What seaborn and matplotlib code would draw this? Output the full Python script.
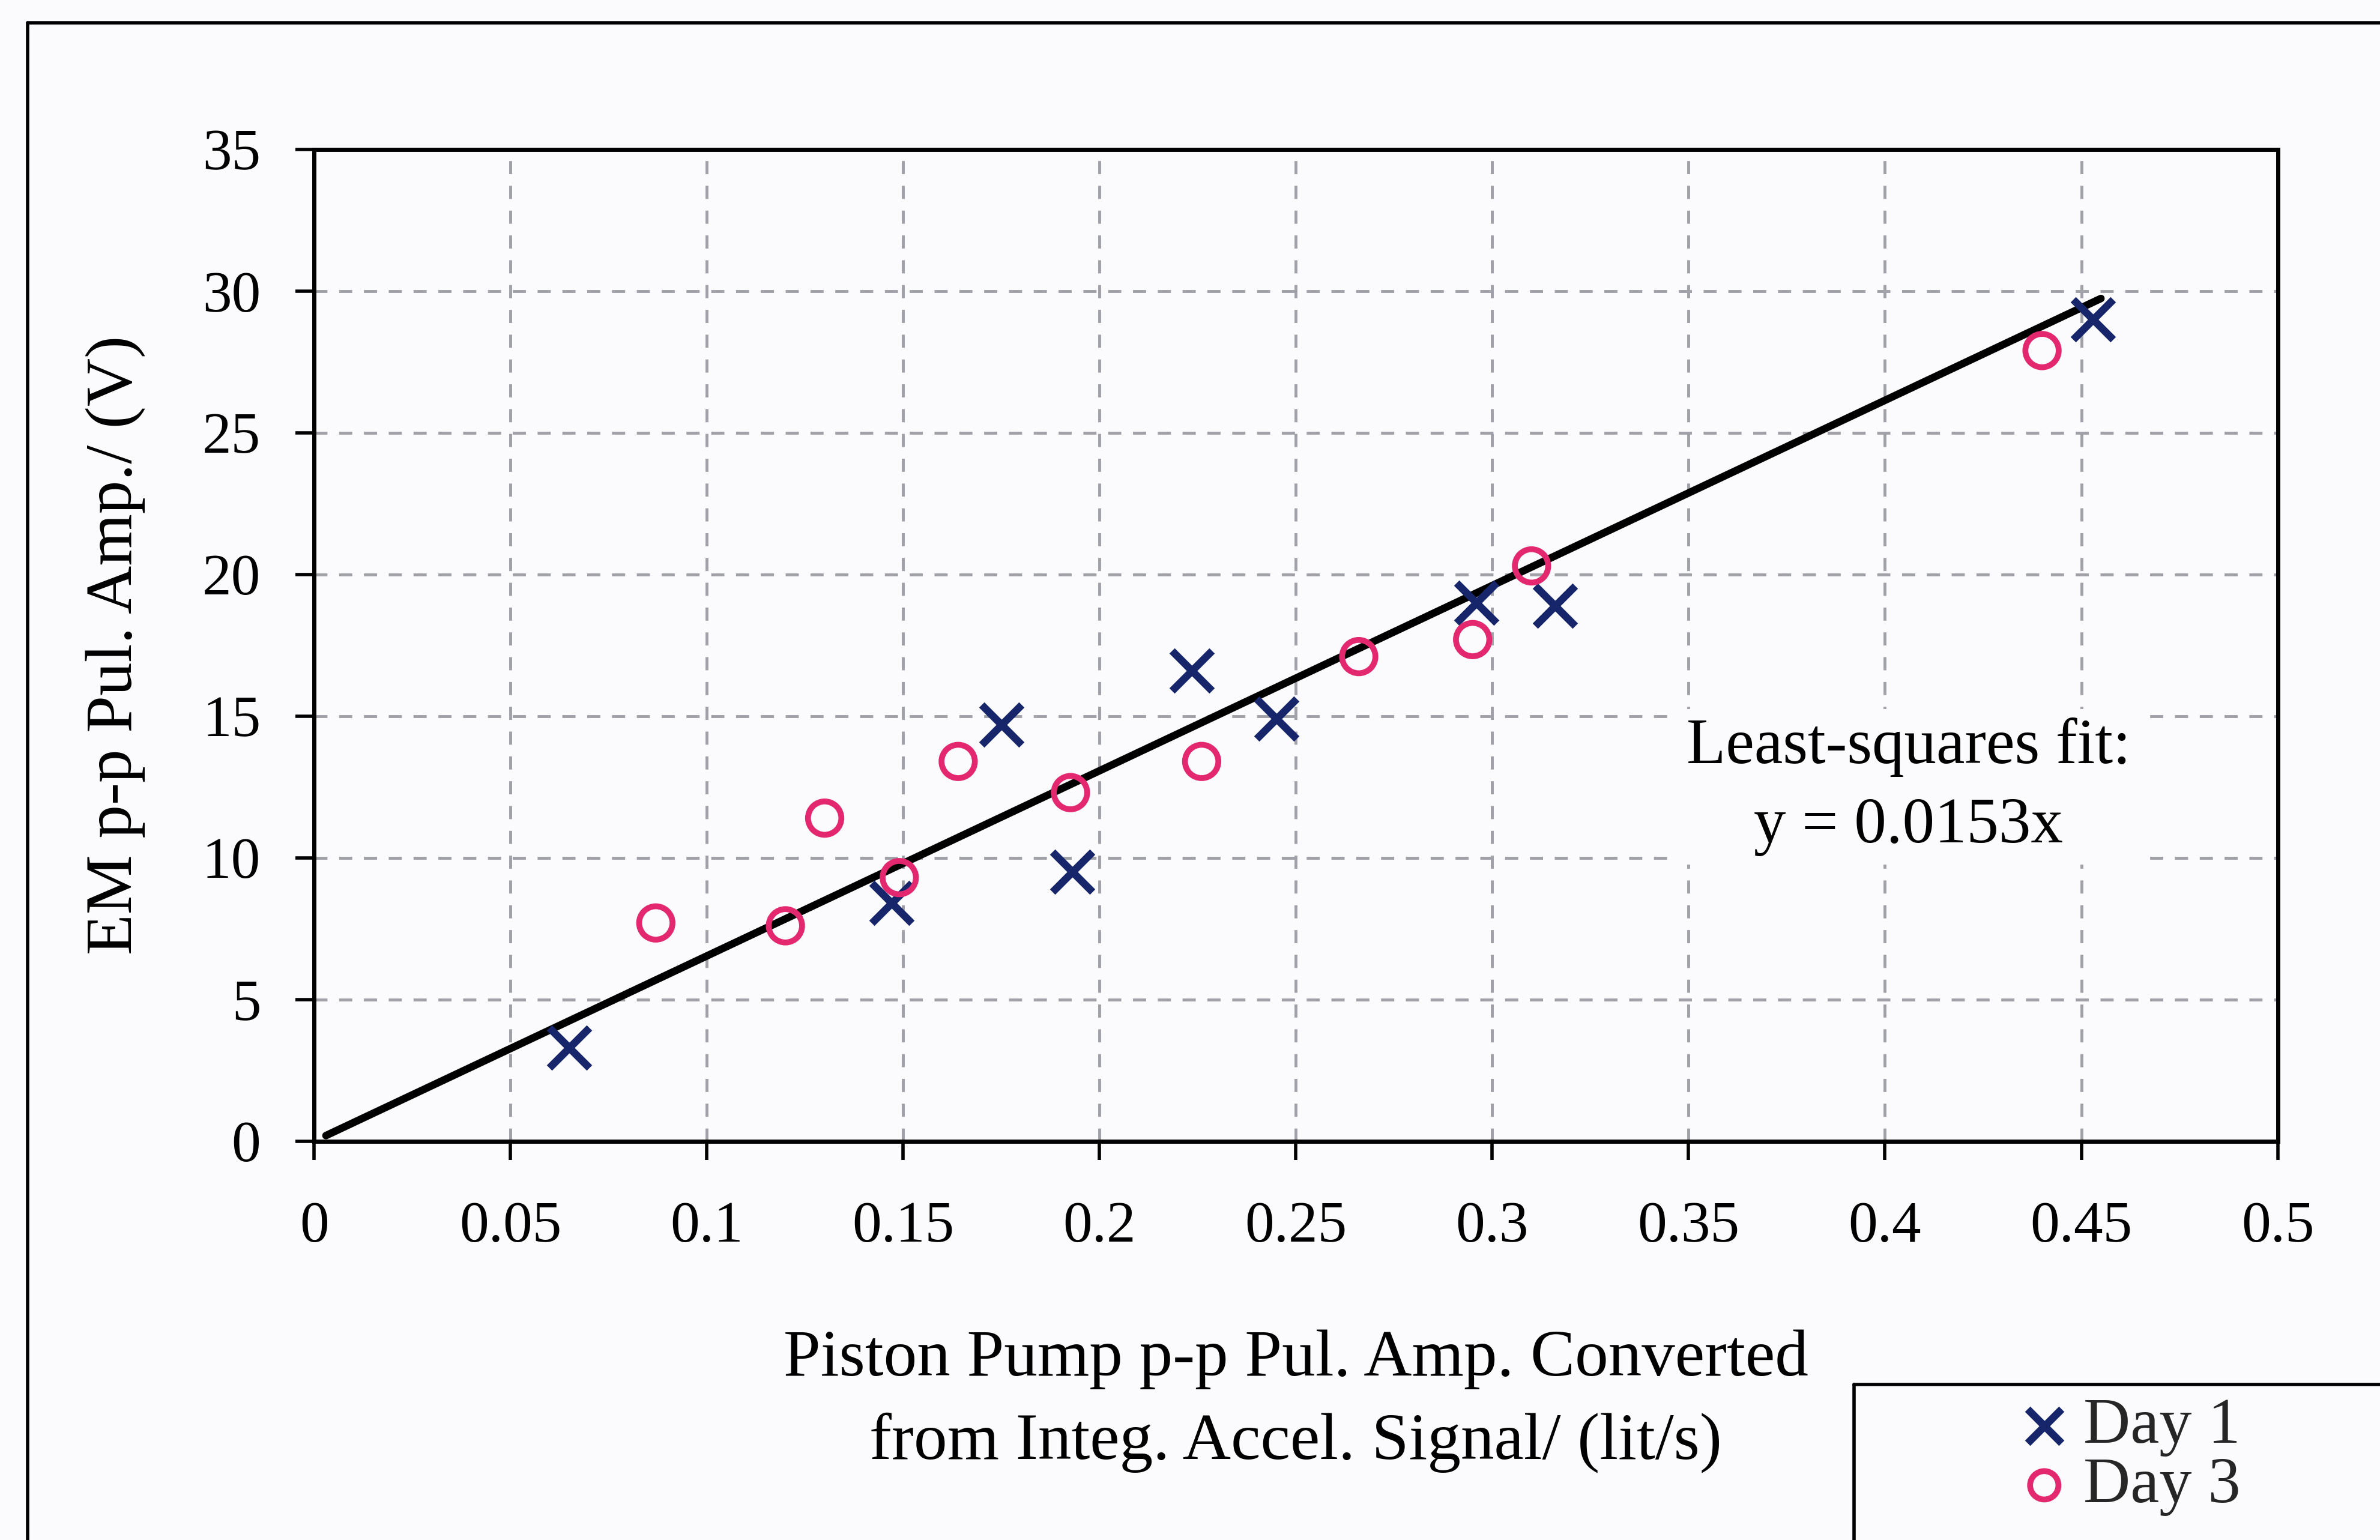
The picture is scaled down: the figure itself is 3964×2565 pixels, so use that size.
import numpy as np
import pandas as pd
import seaborn as sns
import matplotlib.pyplot as plt
from matplotlib.lines import Line2D

# data
day1_x = [0.065, 0.147, 0.175, 0.193, 0.2235, 0.245, 0.296, 0.316, 0.453]
day1_y = [3.3, 8.4, 14.7, 9.5, 16.6, 14.9, 19.0, 18.9, 29.0]

day3_x = [0.087, 0.120, 0.130, 0.149, 0.164, 0.1926, 0.226, 0.266, 0.295, 0.310, 0.440]
day3_y = [7.7, 7.6, 11.4, 9.3, 13.4, 12.3, 13.4, 17.1, 17.7, 20.3, 27.9]

# least-squares fit, x = 0.0153 y  ->  y = x / 0.0153
fit_coef = 0.0153
fit_x = np.array([0.003, 0.455])
fit_y = fit_x / fit_coef

x_ticks = [0, 0.05, 0.1, 0.15, 0.2, 0.25, 0.3, 0.35, 0.4, 0.45, 0.5]
x_tick_labels = ["0", "0.05", "0.1", "0.15", "0.2", "0.25", "0.3", "0.35", "0.4", "0.45", "0.5"]
y_ticks = [0, 5, 10, 15, 20, 25, 30, 35]

navy = "#17256b"
pink = "#e3286f"

sns.set_theme(style="white")
plt.rcParams["font.family"] = ["Liberation Serif", "DejaVu Serif"]

fig = plt.figure(figsize=(39.64, 25.65), dpi=100, facecolor="#fbfbfd")
ax = fig.add_axes([0.132, 0.259, 0.825, 0.644])
ax.set_facecolor("#fbfbfd")

d1 = pd.DataFrame({"x": day1_x, "y": day1_y})
d3 = pd.DataFrame({"x": day3_x, "y": day3_y})
fit = pd.DataFrame({"x": fit_x, "y": fit_y})

sns.lineplot(data=fit, x="x", y="y", color="black", linewidth=9, ax=ax, zorder=3)
sns.scatterplot(data=d1, x="x", y="y", marker="x", color=navy, s=48**2,
                linewidth=9, ax=ax, zorder=4, label="Day 1")
sns.scatterplot(data=d3, x="x", y="y", marker="o", facecolors="none",
                edgecolor=pink, s=40**2, linewidth=7, ax=ax, zorder=4, label="Day 3")

ax.set_xlim(0, 0.5)
ax.set_ylim(0, 35)
ax.set_xticks(x_ticks)
ax.set_xticklabels(x_tick_labels)
ax.set_yticks(y_ticks)
ax.tick_params(axis="both", labelsize=70, length=22, width=4, direction="out",
               color="black", labelcolor="black")
ax.tick_params(axis="x", pad=50)
ax.tick_params(axis="y", pad=42)
ax.xaxis.set_ticks_position("bottom")
ax.yaxis.set_ticks_position("left")

ax.grid(True, linestyle=(0, (4.5, 4)), linewidth=3.5, color="#a0a0a8")
ax.set_axisbelow(True)
for sp in ax.spines.values():
    sp.set_color("black")
    sp.set_linewidth(5)
    sp.set_visible(True)

ax.set_xlabel("Piston Pump p-p Pul. Amp. Converted\nfrom Integ. Accel. Signal/ (lit/s)",
              fontsize=80, labelpad=90, linespacing=1.5, color="black")
ax.set_ylabel("EM p-p Pul. Amp./ (V)", fontsize=80, labelpad=68, color="black")

ax.text(0.406, 12.5, "Least-squares fit:\ny = " + str(fit_coef) + "x",
        fontsize=77, ha="center", va="center", linespacing=1.45, zorder=5,
        color="black", bbox=dict(facecolor="#fbfbfd", edgecolor="none", pad=10))

# legend outside the axes, bottom right
handles, labels = ax.get_legend_handles_labels()
ax.legend(handles, labels, loc="center", bbox_to_anchor=(0.894, 0.054),
          bbox_transform=fig.transFigure, frameon=False, fontsize=78,
          handletextpad=0.15, labelspacing=0.0, handlelength=0.9,
          markerscale=0.85, borderpad=0)

# outer frame lines of the scanned page
fig.add_artist(Line2D([0.0115, 1.0], [0.985, 0.985], color="black", lw=4))
fig.add_artist(Line2D([0.0115, 0.0115], [0.0, 0.985], color="black", lw=4))
fig.add_artist(Line2D([0.779, 1.0], [0.101, 0.101], color="black", lw=4))
fig.add_artist(Line2D([0.779, 0.779], [0.0, 0.101], color="black", lw=4))

fig.savefig("out.png", dpi=100, facecolor=fig.get_facecolor())
